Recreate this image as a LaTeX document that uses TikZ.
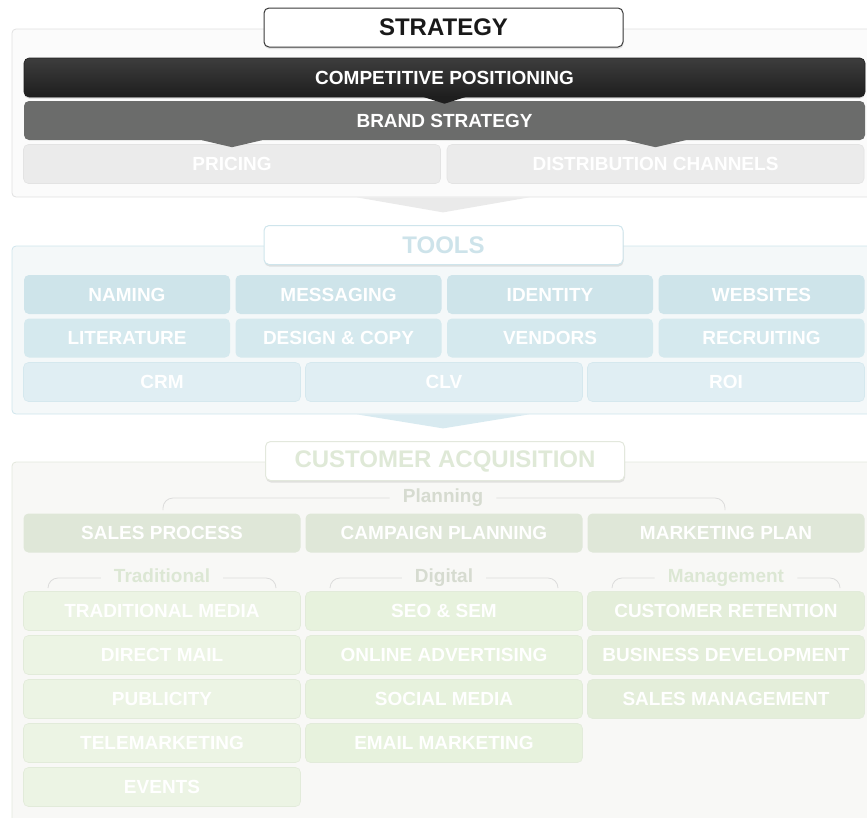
\documentclass[tikz,border=0pt]{standalone}
\usepackage{fontspec}
\setmainfont{Liberation Sans}
\usetikzlibrary{shadows}
\definecolor{stratbg}{HTML}{FBFBFB}
\definecolor{stratline}{HTML}{E0E0E0}
\definecolor{titledark}{HTML}{3A3A3A}
\definecolor{compettop}{HTML}{3D3D3D}
\definecolor{competbot}{HTML}{1E1E1E}
\definecolor{brandfill}{HTML}{6B6C6B}
\definecolor{greycell}{HTML}{EBEBEB}
\definecolor{greyline}{HTML}{E3E3E3}
\definecolor{arrowgrey}{HTML}{EAEAEA}
\definecolor{toolbg}{HTML}{F4F8F9}
\definecolor{toolline}{HTML}{CFE5EC}
\definecolor{tooltext}{HTML}{CDE3EA}
\definecolor{toolA}{HTML}{CEE4EA}
\definecolor{toolB}{HTML}{D5E9EE}
\definecolor{toolC}{HTML}{E0EEF3}
\definecolor{toolCline}{HTML}{D5E8EE}
\definecolor{arrowblue}{HTML}{D8EAF0}
\definecolor{custbg}{HTML}{F8F8F6}
\definecolor{custline}{HTML}{E3E8DD}
\definecolor{custtext}{HTML}{DFE9D7}
\definecolor{planfill}{HTML}{DFE7D8}
\definecolor{bracketline}{HTML}{DCDCDC}
\definecolor{labelgrey}{HTML}{D6DBD0}
\definecolor{labelgreen}{HTML}{DCE7D4}
\definecolor{colA}{HTML}{ECF4E4}
\definecolor{colB}{HTML}{E7F2DD}
\definecolor{colC}{HTML}{E4EEDA}
\definecolor{colline}{HTML}{E2EBDA}
\begin{document}
\begin{tikzpicture}[x=1pt,y=-1pt,
  every node/.style={font=\bfseries\fontsize{19}{21}\selectfont, inner sep=0pt},
  panel/.style={rounded corners=4pt, line width=0.8pt, minimum width=862pt},
  title/.style={rounded corners=5pt, fill=white, line width=1pt,
    minimum width=359pt, minimum height=39pt, font=\bfseries\fontsize{24}{26}\selectfont,
    drop shadow={shadow xshift=0.5pt, shadow yshift=-2pt, opacity=0.2}},
  cell/.style={rounded corners=5pt, text=white, line width=0.6pt, minimum height=39pt},
  bar/.style={cell, minimum width=841pt},
  half/.style={cell, minimum width=417pt, fill=greycell, draw=greyline},
  quad/.style={cell, minimum width=206pt},
  trio/.style={cell, minimum width=277pt},
  catlabel/.style={inner xsep=13pt, text height=13.5pt, text depth=4pt},
  bracket/.style={draw=bracketline, line width=0.8pt, rounded corners=10pt},
  ]
\useasboundingbox (0,0) rectangle (867,817);
\clip (0,0) rectangle (867,817);

% strategy
\node[panel, fill=stratbg, draw=stratline, minimum height=168pt] (stratpanel) at (443,113) {};
\fill[arrowgrey] (stratpanel.south) ++(-86,0) -- ++(86,15) -- ++(86,-15) -- cycle;
\node[title, draw=titledark, text=black!90] (strattitle) at (443.5,27.5) {STRATEGY};
\node[bar, top color=compettop, bottom color=competbot, draw=competbot,
  drop shadow={shadow xshift=0pt, shadow yshift=-1.5pt, opacity=0.25}] (compet) at (444.5,77.5) {COMPETITIVE POSITIONING};
\node[bar, fill=brandfill] (brand) at (444.5,120.5) {BRAND STRATEGY};
\node[half] (pricing) at (232,164) {PRICING};
\node[half] (distrib) at (655.5,164) {DISTRIBUTION CHANNELS};
\fill[competbot] (brand.north) ++(-22,-4) -- ++(22,7) -- ++(22,-7) -- cycle;
\fill[brandfill] (pricing.north) ++(-30,-4) -- ++(30,7) -- ++(30,-7) -- cycle;
\fill[brandfill] (distrib.north) ++(-30,-4) -- ++(30,7) -- ++(30,-7) -- cycle;

% tools
\node[panel, fill=toolbg, draw=toolline, minimum height=168pt] (toolpanel) at (443,330) {};
\fill[arrowblue] (toolpanel.south) ++(-86,0) -- ++(86,14) -- ++(86,-14) -- cycle;
\node[title, draw=toolline, text=tooltext] (tooltitle) at (443.5,245) {TOOLS};
\node[quad, fill=toolA] (naming) at (127,294.5) {NAMING};
\node[quad, fill=toolA] (messaging) at (338.5,294.5) {MESSAGING};
\node[quad, fill=toolA] (identity) at (550,294.5) {IDENTITY};
\node[quad, fill=toolA] (websites) at (761.5,294.5) {WEBSITES};
\node[quad, fill=toolB] (literature) at (127,338) {LITERATURE};
\node[quad, fill=toolB] (design) at (338.5,338) {DESIGN \& COPY};
\node[quad, fill=toolB] (vendors) at (550,338) {VENDORS};
\node[quad, fill=toolB] (recruiting) at (761.5,338) {RECRUITING};
\node[trio, fill=toolC, draw=toolCline] (crm) at (162,382) {CRM};
\node[trio, fill=toolC, draw=toolCline] (clv) at (444,382) {CLV};
\node[trio, fill=toolC, draw=toolCline] (roi) at (726,382) {ROI};

% customer acquisition
\node[panel, fill=custbg, draw=custline, minimum height=380pt] (custpanel) at (443,652) {};
\node[title, draw=custline, text=custtext] (custtitle) at (445,461) {CUSTOMER ACQUISITION};
\node[catlabel, text=labelgrey] (planlabel) at (443,498) {Planning};
\draw[bracket] (planlabel.west) -| (163,510);
\draw[bracket] (planlabel.east) -| (725,510);
\node[trio, fill=planfill] (salesproc) at (162,533) {SALES PROCESS};
\node[trio, fill=planfill] (campaign) at (444,533) {CAMPAIGN PLANNING};
\node[trio, fill=planfill] (mktplan) at (726,533) {MARKETING PLAN};
\node[catlabel, text=labelgreen] (tradlabel) at (162,578) {Traditional};
\node[catlabel, text=labelgrey] (digilabel) at (444,578) {Digital};
\node[catlabel, text=labelgreen] (mgmtlabel) at (726,578) {Management};
\draw[bracket] (tradlabel.west) -| (48,588);
\draw[bracket] (tradlabel.east) -| (276,588);
\draw[bracket] (digilabel.west) -| (330,588);
\draw[bracket] (digilabel.east) -| (558,588);
\draw[bracket] (mgmtlabel.west) -| (612,588);
\draw[bracket] (mgmtlabel.east) -| (840,588);
\foreach \t [count=\i] in {TRADITIONAL MEDIA, DIRECT MAIL, PUBLICITY, TELEMARKETING, EVENTS}
  \node[trio, fill=colA, draw=colline] (trad\i) at (162,567+44*\i) {\t};
\foreach \t [count=\i] in {SEO \& SEM, ONLINE ADVERTISING, SOCIAL MEDIA, EMAIL MARKETING}
  \node[trio, fill=colB, draw=colline] (digi\i) at (444,567+44*\i) {\t};
\foreach \t [count=\i] in {CUSTOMER RETENTION, BUSINESS DEVELOPMENT, SALES MANAGEMENT}
  \node[trio, fill=colC, draw=colline] (mgmt\i) at (726,567+44*\i) {\t};
\end{tikzpicture}
\end{document}
